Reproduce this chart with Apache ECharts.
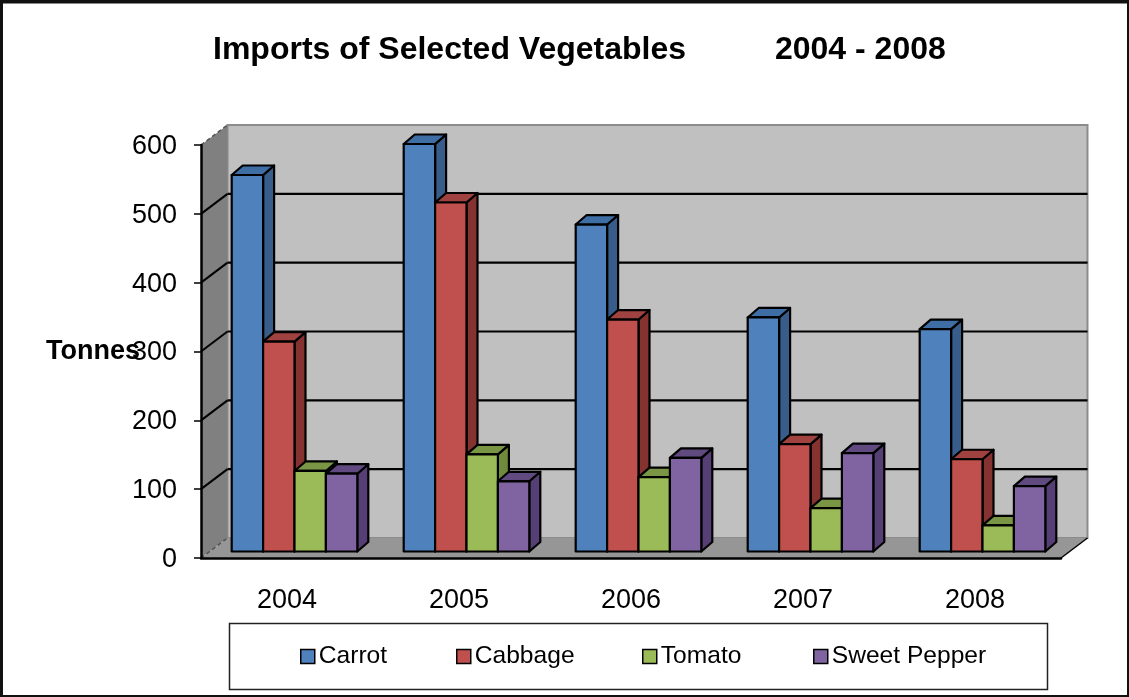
<!DOCTYPE html>
<html><head><meta charset="utf-8">
<style>html,body{margin:0;padding:0;background:#fff}#c{width:1129px;height:697px}</style>
<script src="https://cdn.jsdelivr.net/npm/echarts@6/dist/echarts.min.js"></script>
</head><body><div id="c"></div>
<script>
var years = ['2004','2005','2006','2007','2008'];
var carrot = [547,592,475,340,323];
var cabbage = [305,507,337,156,134];
var tomato = [117,141,108,63,38];
var pepper = [113,102,136,143,95];
var yTicks = [0,100,200,300,400,500,600];
var legendNames = ['Carrot','Cabbage','Tomato','Sweet Pepper'];
var legendLeft = [300,456,642,813];

var FONT = '"Liberation Sans", Arial, sans-serif';
var WALL = [26.5,-20], BAR_SHIFT = [7.5,-6.5], BAR_DEPTH = [11,-9.5], BAR_W = 31.4;
var chart = echarts.init(document.getElementById('c'), null, {renderer:'canvas', width:1129, height:697});

function barSeries(name, values, idx, front, side, top){
  return {
    type:'custom', name:name, coordinateSystem:'cartesian2d', z:3,
    itemStyle:{color:front, borderColor:'#000', borderWidth:2},
    data: values.map(function(v,i){return [i,v];}),
    encode:{x:0,y:1},
    renderItem:function(params, api){
      var t = api.coord([api.value(0), api.value(1)]);
      var b = api.coord([api.value(0), 0]);
      var x0 = t[0] - 2*BAR_W + idx*BAR_W + BAR_SHIFT[0];
      var x1 = x0 + BAR_W;
      var yT = t[1] + BAR_SHIFT[1], yB = b[1] + BAR_SHIFT[1];
      var dx = BAR_DEPTH[0], dy = BAR_DEPTH[1];
      var st = {stroke:'#000', lineWidth:2.2, lineJoin:'round'};
      function poly(points, fill){
        return {type:'polygon', shape:{points:points}, style:Object.assign({fill:fill}, st)};
      }
      return {type:'group', children:[
        poly([[x1,yT],[x1+dx,yT+dy],[x1+dx,yB+dy],[x1,yB]], side),
        poly([[x0,yT],[x0+dx,yT+dy],[x1+dx,yT+dy],[x1,yT]], top),
        poly([[x0,yT],[x1,yT],[x1,yB],[x0,yB]], front)
      ]};
    }
  };
}

var wallSeries = {
  type:'custom', name:'walls', coordinateSystem:'cartesian2d', z:1, silent:true,
  data:[[0,0]], encode:{x:0,y:1},
  renderItem:function(params, api){
    var g = params.coordSys, L=g.x, R=g.x+g.width, T=g.y, B=g.y+g.height;
    var dx=WALL[0], dy=WALL[1];
    var kids = [
      {type:'polygon', shape:{points:[[L+dx,T+dy],[R+dx,T+dy],[R+dx,B+dy],[L+dx,B+dy]]},
        style:{fill:'#c0c0c0', stroke:'#8c8c8c', lineWidth:2}},
      {type:'polygon', shape:{points:[[L,T],[L+dx,T+dy],[L+dx,B+dy],[L,B]]},
        style:{fill:'#808080'}},
      {type:'polygon', shape:{points:[[L,B],[L+dx,B+dy],[R+dx,B+dy],[R,B]]},
        style:{fill:'#969696'}}
    ];
    yTicks.forEach(function(v){
      var y = api.coord([0,v])[1];
      var edge = (v===0 || v===yTicks[yTicks.length-1]);
      if(!edge){
        kids.push({type:'line', shape:{x1:L+dx,y1:y+dy,x2:R+dx,y2:y+dy}, style:{stroke:'#000',lineWidth:2.2}});
      }
      kids.push({type:'line', shape:{x1:L,y1:y,x2:L+dx,y2:y+dy},
        style: edge ? {stroke:'#555',lineWidth:1.5,lineDash:[4,3]} : {stroke:'#000',lineWidth:2}});
    });
    kids.push({type:'line', shape:{x1:R,y1:B,x2:R+dx,y2:B+dy}, style:{stroke:'#000',lineWidth:1.5}});
    return {type:'group', children:kids};
  }
};

function frame(x,y,w,h){
  return {type:'rect', silent:true, z:100, shape:{x:x,y:y,width:w,height:h}, style:{fill:'#111'}};
}

chart.setOption({
  animation:false,
  backgroundColor:'#fff',
  title:{text:'Imports of Selected Vegetables          2004 - 2008', left:208, top:29,
    textStyle:{fontFamily:FONT,fontWeight:'bold',fontSize:32,color:'#000'}},
  grid:{left:201, right:68, top:145, bottom:139},
  xAxis:{type:'category', data:years, z:5,
    axisLine:{lineStyle:{color:'#000',width:2.5}},
    axisTick:{alignWithLabel:false,length:8,lineStyle:{color:'#000',width:1.5}},
    axisLabel:{fontFamily:FONT,fontSize:27,color:'#000',margin:29}},
  yAxis:{type:'value', min:0, max:600, interval:100, z:5,
    name:'Tonnes', nameLocation:'middle', nameRotate:0, nameGap:61, nameMoveOverlap:false,
    nameTextStyle:{fontFamily:FONT,fontWeight:'bold',fontSize:27,color:'#000'},
    axisLine:{show:true,lineStyle:{color:'#000',width:2.5}},
    axisTick:{show:true,length:7,lineStyle:{color:'#000',width:1.5}},
    axisLabel:{fontFamily:FONT,fontSize:27,color:'#000',margin:24,showMinLabel:true,showMaxLabel:true,
      verticalAlign:'top',lineHeight:27,padding:[-12,0,0,0]},
    splitLine:{show:false}},
  legend: legendNames.map(function(n,i){
    return {data:[n], left:legendLeft[i], top:644, padding:0, itemWidth:14, itemHeight:14,
      icon:'rect', selectedMode:false, z:10,
      itemStyle:{borderColor:'#000',borderWidth:1.5},
      textStyle:{fontFamily:FONT,fontSize:24.6,color:'#000',padding:[0,0,0,-1]}};
  }),
  graphic:[
    {type:'rect', silent:true, z:5, shape:{x:229.5,y:623.5,width:818,height:66},
      style:{fill:'#fff',stroke:'#222',lineWidth:1.5}},
    frame(0,0,1129,3.5), frame(0,0,3,697), frame(1127,0,2,697), frame(0,695,1129,2)
  ],
  series:[
    wallSeries,
    barSeries('Carrot',carrot,0,'#4f81bd','#385d8a','#3f6ea5'),
    barSeries('Cabbage',cabbage,1,'#c0504d','#853331','#a04340'),
    barSeries('Tomato',tomato,2,'#9bbb59','#6f8a3a','#7a9645'),
    barSeries('Sweet Pepper',pepper,3,'#8064a2','#563f74','#604a80')
  ]
});
</script></body></html>
